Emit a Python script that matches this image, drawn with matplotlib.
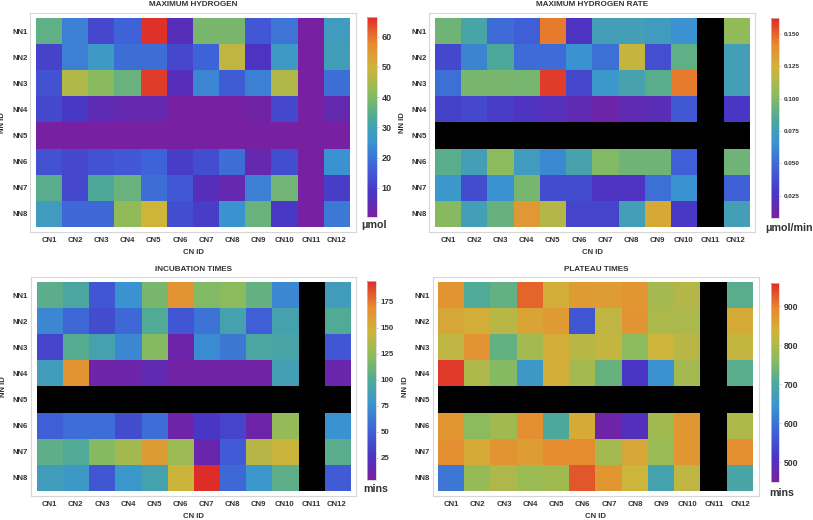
import numpy as np
import matplotlib
matplotlib.use('Agg')
import matplotlib.pyplot as plt
from matplotlib.colors import LinearSegmentedColormap

plt.rcParams['font.family'] = ['Liberation Sans', 'DejaVu Sans']

W, H = 813, 520

cn_labels = [f'CN{i}' for i in range(1, 13)]
nn_labels = [f'NN{i}' for i in range(1, 9)]
nan = np.nan

# maximum hydrogen (umol)
max_h2 = [
    [36, 22, 12, 17, 66, 6, 39, 39, 15, 20, 1, 28],
    [11, 22, 27, 19, 19, 12, 17, 48, 8, 27, 1, 29],
    [14, 46, 41, 37, 65, 6, 23, 16, 22, 46, 1, 19],
    [12, 9, 5, 4, 4, 1, 1, 1, 2, 12, 1, 4],
    [1, 1, 1, 1, 1, 1, 1, 1, 1, 1, 1, 1],
    [14, 12, 14, 15, 17, 10, 13, 19, 4, 13, 1, 25],
    [35, 12, 33, 37, 19, 15, 6, 4, 22, 38, 1, 10],
    [28, 18, 18, 42, 50, 13, 10, 25, 37, 9, 1, 21],
]

# maximum hydrogen rate (umol/min)
max_rate = [
    [0.095, 0.080, 0.050, 0.045, 0.145, 0.025, 0.075, 0.075, 0.072, 0.065, nan, 0.105],
    [0.035, 0.060, 0.083, 0.050, 0.050, 0.065, 0.052, 0.120, 0.038, 0.090, nan, 0.075],
    [0.052, 0.098, 0.098, 0.097, 0.158, 0.035, 0.068, 0.078, 0.088, 0.145, nan, 0.075],
    [0.032, 0.035, 0.030, 0.025, 0.022, 0.018, 0.013, 0.018, 0.020, 0.042, nan, 0.027],
    [nan] * 12,
    [0.088, 0.075, 0.103, 0.072, 0.062, 0.078, 0.100, 0.095, 0.095, 0.045, nan, 0.095],
    [0.068, 0.037, 0.065, 0.097, 0.037, 0.037, 0.025, 0.025, 0.052, 0.065, nan, 0.045],
    [0.102, 0.075, 0.092, 0.135, 0.115, 0.033, 0.033, 0.075, 0.128, 0.028, nan, 0.075],
]

# incubation times (mins)
incubation = [
    [104, 95, 45, 75, 115, 165, 118, 122, 108, 70, nan, 85],
    [70, 55, 40, 55, 100, 45, 60, 90, 50, 90, nan, 100],
    [35, 102, 90, 70, 120, 10, 72, 62, 95, 93, nan, 45],
    [85, 165, 10, 10, 15, 8, 8, 8, 8, 88, nan, 12],
    [nan] * 12,
    [50, 57, 57, 40, 57, 10, 28, 35, 10, 125, nan, 75],
    [105, 100, 120, 130, 160, 128, 12, 48, 138, 145, nan, 103],
    [85, 80, 45, 78, 90, 145, 195, 55, 78, 105, nan, 48],
]

# plateau times (mins)
plateau = [
    [880, 705, 725, 920, 840, 870, 865, 875, 790, 805, nan, 715],
    [850, 840, 810, 855, 870, 560, 815, 880, 795, 795, nan, 845],
    [815, 880, 725, 790, 840, 810, 820, 765, 830, 810, nan, 820],
    [950, 800, 760, 655, 840, 790, 730, 510, 640, 790, nan, 715],
    [nan] * 12,
    [875, 765, 785, 885, 700, 845, 465, 500, 785, 875, nan, 800],
    [885, 845, 880, 865, 890, 890, 790, 850, 780, 875, nan, 885],
    [605, 775, 800, 780, 785, 930, 875, 830, 680, 815, nan, 690],
]

rainbow = LinearSegmentedColormap.from_list('mma_rainbow', [
    (0.00, '#7b1f9f'), (0.12, '#4a35c4'), (0.25, '#3f62d8'),
    (0.38, '#3a95d0'), (0.50, '#4faa98'), (0.62, '#8cbc5c'),
    (0.75, '#d0b43a'), (0.87, '#e88a30'), (1.00, '#de2c28')])
rainbow.set_bad('black')

txt = '#333333'
fig = plt.figure(figsize=(W / 100, H / 100), dpi=100)


def ftext(x, y, s, **kw):
    fig.text(x / W, 1 - y / H, s, ha='center', va='center', color=txt,
             fontweight='bold', **kw)


def panel(data, hx, hy, cbx, cby, vmin, vmax, ticks, fmt, tsize, title, unit, unit_xy):
    x0, x1 = hx
    y0, y1 = hy
    pad = 0.22
    cw, ch = (x1 - x0) / 12, (y1 - y0) / 8
    l, r = x0 - pad * cw, x1 + pad * cw
    t, b = y0 - pad * ch, y1 + pad * ch
    ax = fig.add_axes([l / W, 1 - b / H, (r - l) / W, (b - t) / H])
    im = ax.imshow(np.array(data, dtype=float), cmap=rainbow, vmin=vmin, vmax=vmax,
                   aspect='auto', interpolation='nearest')
    ax.set_xlim(-0.5 - pad, 11.5 + pad)
    ax.set_ylim(7.5 + pad, -0.5 - pad)
    ax.set_xticks(range(12))
    ax.set_xticklabels(cn_labels, fontsize=5.6, fontweight='bold', color=txt)
    ax.set_yticks(range(8))
    ax.set_yticklabels(nn_labels, fontsize=5.6, fontweight='bold', color=txt)
    ax.tick_params(length=0, pad=3.5)
    ax.tick_params(axis='y', pad=2)
    for sp in ax.spines.values():
        sp.set_color('#d6d6d6')
        sp.set_linewidth(0.8)
    cx0, cx1 = cbx
    cy0, cy1 = cby
    cax = fig.add_axes([cx0 / W, 1 - cy1 / H, (cx1 - cx0) / W, (cy1 - cy0) / H])
    cb = fig.colorbar(im, cax=cax, ticks=ticks)
    cb.ax.set_yticklabels([fmt.format(v) for v in ticks], fontsize=tsize,
                          fontweight='bold', color=txt)
    cb.ax.tick_params(length=1.5, width=0.5, color='#bbbbbb', pad=2)
    cb.outline.set_edgecolor('#cccccc')
    cb.outline.set_linewidth(0.5)
    # title, axis labels, unit
    ftext((x0 + x1) / 2, y0 - 13.5, title, fontsize=5.9)
    ftext((x0 + x1) / 2, b + 20.5, 'CN ID', fontsize=5.6)
    ftext(x0 - 33, (y0 + y1) / 2, 'NN ID', fontsize=5.6, rotation=90)
    ftext(unit_xy[0], unit_xy[1], unit, fontsize=7.7)
    return ax


panel(max_h2, (36, 350), (18.3, 226.7), (366.7, 376.7), (16.7, 217.3),
      0.3, 66.6, [10, 20, 30, 40, 50, 60], '{:d}', 6.5,
      'MAXIMUM HYDROGEN', 'μmol', (374, 225))
panel(max_rate, (435, 749), (18.3, 226.7), (770.7, 779), (18.3, 218.3),
      0.0075, 0.162, [0.025, 0.05, 0.075, 0.1, 0.125, 0.15], '{:.3f}', 4.6,
      'MAXIMUM HYDROGEN RATE', 'μmol/min', (789, 228))
panel(incubation, (36.7, 350), (282.7, 490.7), (366.7, 376), (280.7, 480),
      3.5, 195, [25, 50, 75, 100, 125, 150, 175], '{:d}', 5.7,
      'INCUBATION TIMES', 'mins', (376, 489))
panel(plateau, (438.3, 753.3), (282.7, 490.7), (770.7, 779), (282.7, 481.7),
      450, 960, [500, 600, 700, 800, 900], '{:d}', 6.2,
      'PLATEAU TIMES', 'mins', (782, 492.5))

fig.savefig('out.png', dpi=100)
